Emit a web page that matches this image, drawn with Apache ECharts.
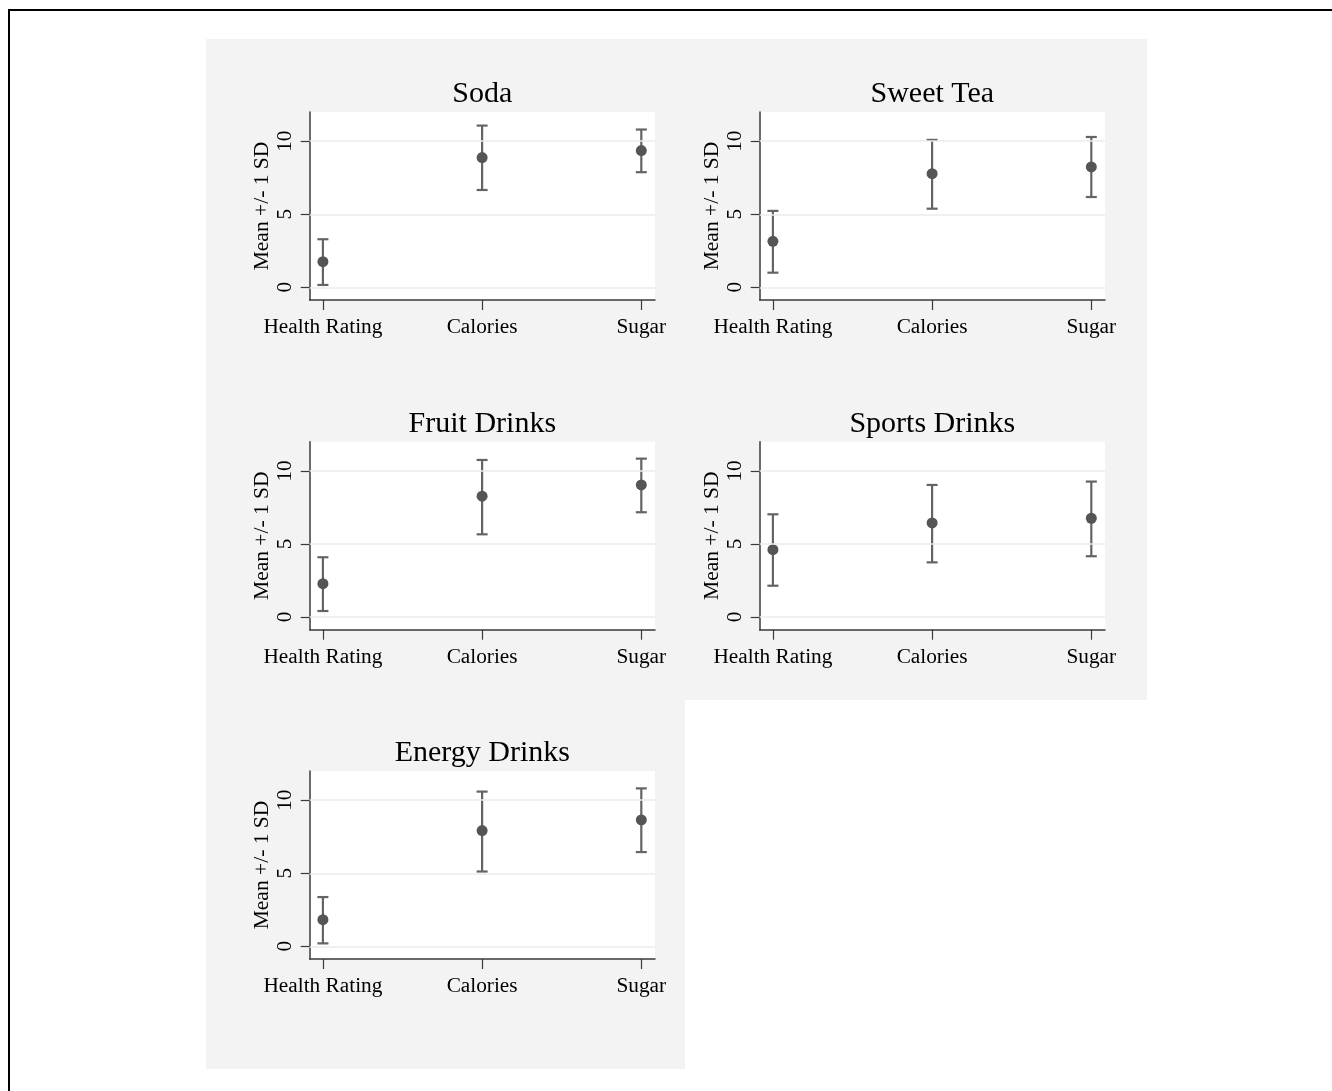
<!DOCTYPE html>
<html>
<head>
<meta charset="utf-8">
<script src="https://cdn.jsdelivr.net/npm/echarts@6/dist/echarts.min.js"></script>
<style>
html,body{margin:0;padding:0;background:#fff;}
#chart{width:1332px;height:1091px;}
</style>
</head>
<body>
<div id="chart"></div>
<script>
// ---- data ----
const categories = ['Health Rating', 'Calories', 'Sugar'];
const panelTitles = ['Soda', 'Sweet Tea', 'Fruit Drinks', 'Sports Drinks', 'Energy Drinks'];
const yTicks = [0, 5, 10];
const yAxisName = 'Mean +/- 1 SD';

const sodaMean = [1.75, 8.88, 9.36];
const sodaLow  = [0.16, 6.66, 7.88];
const sodaHigh = [3.29, 11.07, 10.80];

const sweetTeaMean = [3.15, 7.78, 8.24];
const sweetTeaLow  = [1.00, 5.38, 6.18];
const sweetTeaHigh = [5.23, 10.09, 10.29];

const fruitMean = [2.28, 8.27, 9.04];
const fruitLow  = [0.41, 5.66, 7.17];
const fruitHigh = [4.09, 10.75, 10.84];

const sportsMean = [4.61, 6.44, 6.76];
const sportsLow  = [2.14, 3.74, 4.16];
const sportsHigh = [7.03, 9.04, 9.27];

const energyMean = [1.82, 7.92, 8.65];
const energyLow  = [0.20, 5.12, 6.45];
const energyHigh = [3.37, 10.59, 10.81];

const panelMeans = [sodaMean, sweetTeaMean, fruitMean, sportsMean, energyMean];
const panelLows  = [sodaLow, sweetTeaLow, fruitLow, sportsLow, energyLow];
const panelHighs = [sodaHigh, sweetTeaHigh, fruitHigh, sportsHigh, energyHigh];

// ---- layout ----
const FONT = '"Liberation Serif", "Times New Roman", serif';
const colLeft = [309.7, 759.7];
const rowTop = [112, 441.7, 771];
const gridW = 345.3, gridH = 188;
const axisColor = '#3a3a3a';
const barColor = '#646464';
const dotColor = '#555555';

const grids = [], xAxes = [], yAxes = [], series = [], titles = [];

panelTitles.forEach((name, i) => {
  const col = i % 2, row = Math.floor(i / 2);
  const left = colLeft[col], top = rowTop[row];
  grids.push({
    left: left, top: top, width: gridW, height: gridH,
    show: true, backgroundColor: '#ffffff', borderWidth: 0, containLabel: false
  });
  titles.push({
    text: name, padding: 0,
    left: left + gridW / 2, top: top - 33,
    textAlign: 'center',
    textStyle: {fontFamily: FONT, fontSize: 30, fontWeight: 'normal', color: '#000'}
  });
  xAxes.push({
    type: 'value', gridIndex: i, min: 0.917, max: 3.086,
    axisLine: {show: true, onZero: false, lineStyle: {color: axisColor, width: 1.5}},
    axisTick: {show: true, length: 10, customValues: [1, 2, 3], lineStyle: {color: axisColor, width: 1.2}},
    axisLabel: {
      customValues: [1, 2, 3], margin: 17,
      formatter: v => categories[Math.round(v) - 1] || '',
      fontFamily: FONT, fontSize: 21.3, color: '#000'
    },
    splitLine: {show: false}
  });
  yAxes.push({
    type: 'value', gridIndex: i, min: -0.87, max: 12.0,
    name: yAxisName, nameLocation: 'middle', nameGap: 36,
    nameTextStyle: {fontFamily: FONT, fontSize: 21.5, color: '#000'},
    axisLine: {show: true, onZero: false, lineStyle: {color: axisColor, width: 1.5}},
    axisTick: {show: true, length: 9, customValues: yTicks, lineStyle: {color: axisColor, width: 1.2}},
    axisLabel: {
      customValues: yTicks, rotate: 90, margin: 14,
      fontFamily: FONT, fontSize: 21.3, color: '#000'
    },
    splitLine: {show: false}
  });
  // gridlines
  series.push({
    type: 'line', xAxisIndex: i, yAxisIndex: i, data: [], z: 1, silent: true,
    markLine: {
      silent: true, symbol: ['none', 'none'], label: {show: false},
      lineStyle: {color: '#ebebeb', width: 1.6, type: 'solid'},
      emphasis: {disabled: true},
      data: yTicks.map(v => ({yAxis: v}))
    }
  });
  // error bars
  const mean = panelMeans[i], lo = panelLows[i], hi = panelHighs[i];
  series.push({
    type: 'custom', xAxisIndex: i, yAxisIndex: i, z: 2, silent: true,
    data: categories.map((c, k) => [k + 1, lo[k], hi[k]]),
    renderItem: function (params, api) {
      const x = api.value(0);
      const pLo = api.coord([x, api.value(1)]);
      const pHi = api.coord([x, api.value(2)]);
      const hw = 5.5;
      const st = {stroke: barColor, lineWidth: 2.2};
      return {
        type: 'group',
        children: [
          {type: 'line', shape: {x1: pLo[0], y1: pLo[1], x2: pHi[0], y2: pHi[1]}, style: st},
          {type: 'line', shape: {x1: pLo[0] - hw, y1: pLo[1], x2: pLo[0] + hw, y2: pLo[1]}, style: st},
          {type: 'line', shape: {x1: pHi[0] - hw, y1: pHi[1], x2: pHi[0] + hw, y2: pHi[1]}, style: st}
        ]
      };
    }
  });
  // means
  series.push({
    type: 'scatter', xAxisIndex: i, yAxisIndex: i, z: 3, silent: true,
    symbol: 'circle', symbolSize: 11,
    itemStyle: {color: dotColor, opacity: 1},
    data: categories.map((c, k) => [k + 1, mean[k]])
  });
});

const chart = echarts.init(document.getElementById('chart'), null, {renderer: 'canvas'});
chart.setOption({
  backgroundColor: '#ffffff',
  animation: false,
  title: titles,
  grid: grids,
  xAxis: xAxes,
  yAxis: yAxes,
  series: series,
  graphic: [
    {type: 'rect', z: -100, silent: true, shape: {x: 206, y: 39, width: 941, height: 661}, style: {fill: '#f3f3f3'}},
    {type: 'rect', z: -100, silent: true, shape: {x: 206, y: 700, width: 479, height: 369}, style: {fill: '#f3f3f3'}},
    {type: 'polyline', z: 100, silent: true, shape: {points: [[9, 1091], [9, 10], [1332, 10]]}, style: {stroke: '#000', lineWidth: 2, fill: null}}
  ]
});
</script>
</body>
</html>
